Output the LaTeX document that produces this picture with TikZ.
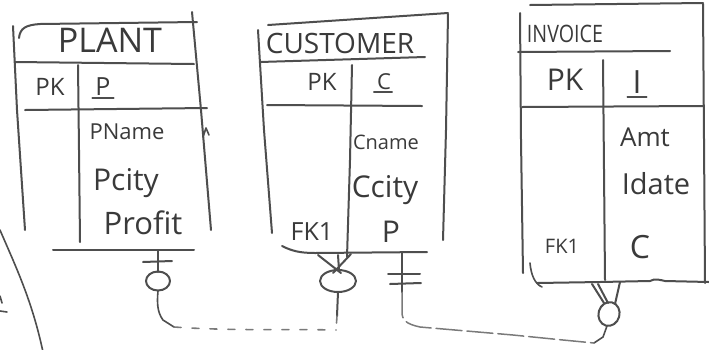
\documentclass[tikz,border=0pt]{standalone}
\usepackage{fontspec}
\setmainfont{Open Sans}
\definecolor{inkc}{HTML}{4E4E4E}
\definecolor{inktext}{HTML}{3A3A3A}
\definecolor{fadec}{HTML}{7A7A7A}
\begin{document}
\begin{tikzpicture}[x=1pt,y=-1pt,
  ink/.style={draw=inkc,line width=2pt,line cap=round,line join=round},
  fine/.style={draw=inkc,line width=1.6pt,line cap=round,line join=round},
  lbl/.style={text=inktext,inner sep=0pt,anchor=base},
  fsz/.style={font=\fontsize{#1}{#1}\selectfont},
  dotlink/.style={draw=fadec,line width=1.6pt,line cap=round,dash pattern=on 7pt off 11pt},
  fadelink/.style={draw=fadec,line width=1.5pt,line cap=round,dash pattern=on 26pt off 5pt},
]
\useasboundingbox (0,0) rectangle (709,349);
\fill[white] (0,0) rectangle (709,349);

% ---------- PLANT ----------
\draw[ink] (19,38) .. controls (20,28) and (26,25) .. (40,24) -- (197,22);
\draw[ink] (13,26) -- (17,110) -- (25,230);
\draw[ink] (192,12) -- (201,110) -- (211,230);
\draw[ink] (15,62) -- (194,64);
\draw[ink] (78,65) -- (79,150) -- (80,242);
\draw[ink] (25,110) -- (207,108);
\draw[ink] (53,250) -- (194,250);
\draw[fine] (203,137) -- (206,128) -- (209,135);

\node[lbl,fsz=34] (plantT) at (110,52) {PLANT};
\node[lbl,fsz=24] (plantPK) at (50,95) {PK};
\node[lbl,fsz=25] (plantKey) at (103,95) {P};
\draw[fine] ([xshift=-3pt,yshift=-3pt]plantKey.base west) -- ([xshift=3pt,yshift=-3pt]plantKey.base east);
\node[lbl,fsz=22] (plantA1) at (127,139) {PName};
\node[lbl,fsz=30] (plantA2) at (126,190) {Pcity};
\node[lbl,fsz=31] (plantA3) at (143,234) {Profit};

% ---------- CUSTOMER ----------
\draw[ink] (268,25) -- (448,13);
\draw[ink] (258,30) -- (264,130) -- (272,233);
\draw[ink] (448,14) -- (446,130) -- (443,240);
\draw[ink] (260,62) -- (425,57);
\draw[ink] (352,65) -- (350,160) -- (347,257);
\draw[ink] (267,105) -- (422,106);
\draw[ink] (282,246) .. controls (292,251) and (300,253) .. (315,253) -- (427,252);

\node[lbl,fsz=28] (custT) at (340,53) {CUSTOMER};
\node[lbl,fsz=24] (custPK) at (322,90) {PK};
\node[lbl,fsz=22] (custKey) at (384,89) {C};
\draw[fine] ([xshift=-3pt,yshift=-3pt]custKey.base west) -- ([xshift=1pt,yshift=-3pt]custKey.base east);
\node[lbl,fsz=20] (custA1) at (386,149) {Cname};
\node[lbl,fsz=30] (custA2) at (385,197) {Ccity};
\node[lbl,fsz=25] (custFK) at (312,240) {FK1};
\node[lbl,fsz=30] (custA3) at (391,242) {P};

% ---------- INVOICE ----------
\draw[ink] (530,5) -- (703,3);
\draw[ink] (520,13) -- (521,140) -- (523,273);
\draw[ink] (703,4) -- (704,140) -- (705,283);
\draw[ink] (518,52) -- (670,51);
\draw[ink] (603,60) -- (604,170) -- (605,280);
\draw[ink] (522,107) -- (703,106);
\draw[ink] (537,283) -- (600,282) -- (650,281) .. controls (655,278) and (660,280) .. (665,281) -- (709,282);
\draw[fine] (530,263) .. controls (531,275) and (535,284) .. (542,287);

\node[lbl,fsz=24,xscale=0.82] (invT) at (565,42) {INVOICE};
\node[lbl,fsz=30] (invPK) at (565,90) {PK};
\node[lbl,fsz=32] (invKey) at (637,93) {I};
\draw[fine] ([xshift=-5pt,yshift=-4pt]invKey.base west) -- ([xshift=5pt,yshift=-4pt]invKey.base east);
\node[lbl,fsz=26] (invA1) at (645,146) {Amt};
\node[lbl,fsz=29] (invA2) at (656,194) {Idate};
\node[lbl,fsz=20] (invFK) at (562,253) {FK1};
\node[lbl,fsz=32] (invA3) at (640,258) {C};

% ---------- relationship ends ----------
\coordinate (plEnd) at (158,251);
\coordinate (cuMany) at (338,255);
\coordinate (cuOne) at (402,253);
\coordinate (inMany) at (607,285);
\coordinate (plJoin) at (174,327);
\coordinate (cuJoin) at (337,316);
\coordinate (cuTurn) at (402,312);
\coordinate (inJoin) at (594,343);

% PLANT side: one, optional
\draw[ink] (plEnd) -- (158,272);
\draw[ink] (143,262) -- (172,261);
\draw[ink] (158,281) ellipse [x radius=12,y radius=9.5];
\draw[fine] (158,291) .. controls (157,302) and (157,312) .. (163,320) -- (plJoin);

% CUSTOMER side: many, optional
\draw[ink] (318,255) -- (341,273);
\draw[ink] (351,254) -- (333,273);
\draw[ink] (cuMany) -- (339,270);
\draw[ink] (338,281) ellipse [x radius=18,y radius=11];
\draw[ink] (338,292) -- (cuJoin);

% PLANT -- CUSTOMER link
\draw[dotlink] (plJoin) .. controls (230,331) and (290,329) .. (336,330);
\draw[dotlink] (cuJoin) -- (336,330);

% CUSTOMER side: one, mandatory
\draw[ink] (cuOne) -- (402,292);
\draw[ink] (388,274) -- (420,274);
\draw[ink] (390,284) -- (421,283);

% INVOICE side: many, optional
\draw[ink] (592,284) -- (604,303);
\draw[ink] (598,284) -- (608,303);
\draw[ink] (620,282) -- (615,304);
\draw[ink,rotate around={-15:(609,314)}] (609,314) ellipse [x radius=10.5,y radius=12];
\draw[fine] (607,326) -- (603,337) -- (inJoin);

% CUSTOMER -- INVOICE link
\draw[fadelink] (402,292) -- (cuTurn) .. controls (402,320) and (406,324) .. (420,327)
  -- (513,335) -- (563,340) -- (inJoin);

% ---------- marks at the left edge ----------
\draw[fine] (0,230) .. controls (15,265) and (32,300) .. (43,352);
\draw[fine] (0,296) -- (2,303);
\draw[fine] (0,311) -- (7,312);
\end{tikzpicture}
\end{document}
